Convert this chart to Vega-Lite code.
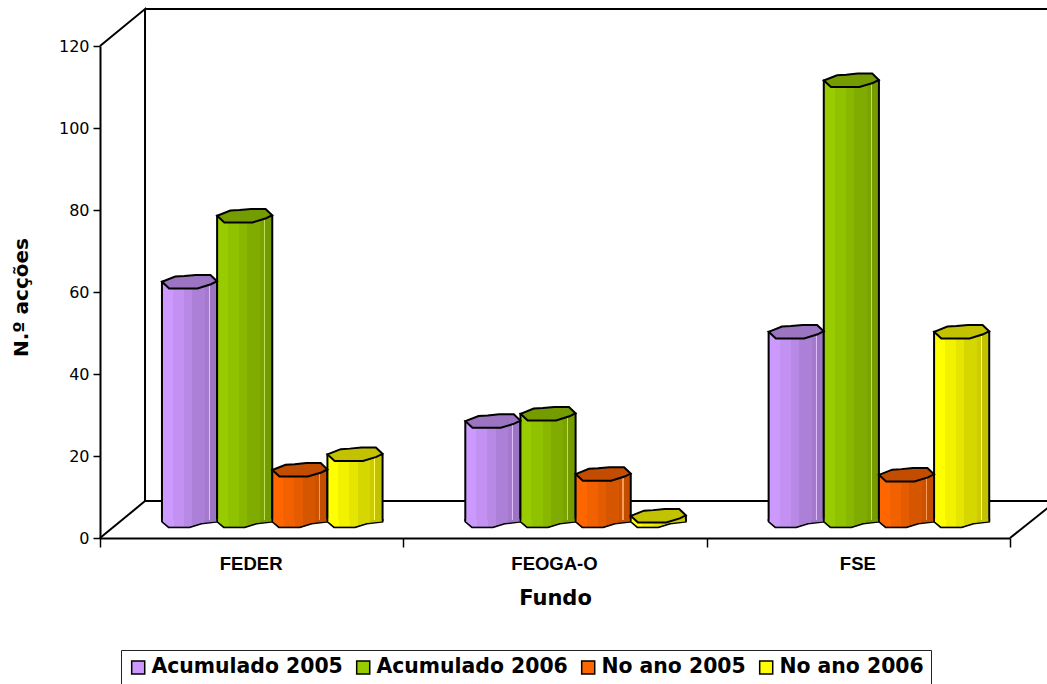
{
"$schema":"https://vega.github.io/schema/vega-lite/v6.json",
"width":910,"height":492,
"autosize":{"type":"none"},
"padding":{"left":100,"top":46,"right":37,"bottom":146},
"background":"white",
"datasets":{
"bars":[
{"fund":"FEDER","series":"Acumulado 2005","value":58.1},
{"fund":"FEDER","series":"Acumulado 2006","value":74.2},
{"fund":"FEDER","series":"No ano 2005","value":12.2},
{"fund":"FEDER","series":"No ano 2006","value":16},
{"fund":"FEOGA-O","series":"Acumulado 2005","value":24.1},
{"fund":"FEOGA-O","series":"Acumulado 2006","value":25.9},
{"fund":"FEOGA-O","series":"No ano 2005","value":11.2},
{"fund":"FEOGA-O","series":"No ano 2006","value":1},
{"fund":"FSE","series":"Acumulado 2005","value":45.9},
{"fund":"FSE","series":"Acumulado 2006","value":107.2},
{"fund":"FSE","series":"No ano 2005","value":11},
{"fund":"FSE","series":"No ano 2006","value":45.9}
],
"walls":[
{"seg":"a","ord":1,"px":0,"py":120},
{"seg":"a","ord":2,"px":0.1484,"py":129},
{"seg":"a","ord":3,"px":0.1484,"py":9},
{"seg":"a","ord":4,"px":3.124,"py":9},
{"seg":"b","ord":1,"px":0,"py":0},
{"seg":"b","ord":2,"px":0.1484,"py":9},
{"seg":"c","ord":1,"px":3,"py":0},
{"seg":"c","ord":2,"px":3.124,"py":7.3},
{"seg":"d","ord":1,"px":0.1484,"py":129},
{"seg":"d","ord":2,"px":3.124,"py":129}
]
},
"config":{
"view":{"stroke":null},
"axis":{"grid":false,"domainColor":"black","domainWidth":2,"tickColor":"black","tickWidth":1.5},
"legend":{"labelFont":"DejaVu Sans","labelFontWeight":"bold","labelFontSize":20.4,"labelColor":"black","symbolType":"square","symbolSize":170,"symbolStrokeColor":"black","symbolStrokeWidth":1.5,"strokeColor":"#222","padding":7,"columnPadding":10,"labelOffset":3,"labelLimit":300}
},
"resolve":{"scale":{"x":"independent","y":"independent"}},
"layer":[
{
"data":{"name":"bars"},
"mark":{"type":"bar","opacity":0},
"encoding":{
"x":{"field":"fund","type":"nominal","scale":{"domain":["FEDER","FEOGA-O","FSE"],"paddingInner":0,"paddingOuter":0},
"axis":{"title":"Fundo","tickBand":"extent","labelAngle":0,"labelFont":"Liberation Sans","labelFontWeight":"bold","labelFontSize":18.5,"labelOffset":-1,"labelColor":"black","labelPadding":7,"tickSize":9,"titleFont":"DejaVu Sans","titleFontWeight":"bold","titleFontSize":21,"titleColor":"black","titlePadding":15}},
"y":{"field":"value","type":"quantitative","stack":null,"scale":{"domain":[0,120],"nice":false},
"axis":{"title":"N.º acções","titleY":251,"values":[0,20,40,60,80,100,120],"tickSize":7,"labelFont":"DejaVu Sans","labelFontSize":16,"labelColor":"black","labelPadding":4,"titleFont":"DejaVu Sans","titleFontWeight":"bold","titleFontSize":20,"titleColor":"black","titlePadding":27}}
}
},
{
"data":{"name":"walls"},
"mark":{"type":"line","color":"black","strokeWidth":2,"clip":false},
"encoding":{
"x":{"field":"px","type":"quantitative","scale":{"domain":[0,3],"nice":false,"zero":false},"axis":null},
"y":{"field":"py","type":"quantitative","scale":{"domain":[0,120],"nice":false},"axis":null},
"detail":{"field":"seg"},
"order":{"field":"ord"}
}
},
{
"data":{"name":"bars"},
"encoding":{
"x":{"field":"fund","type":"nominal","scale":{"domain":["FEDER","FEOGA-O","FSE"],"range":[20.6,930.6],"paddingInner":0,"paddingOuter":0},"axis":null},
"xOffset":{"field":"series","type":"nominal","scale":{"domain":["Acumulado 2005","Acumulado 2006","No ano 2005","No ano 2006"],"paddingInner":0,"paddingOuter":0.75}},
"y":{"field":"value","type":"quantitative","stack":null,"scale":{"domain":[-4.39,115.61],"nice":false},"axis":null},
"color":{"field":"series","type":"nominal","scale":{"domain":["Acumulado 2005","Acumulado 2006","No ano 2005","No ano 2006"],"range":["#CC99FF","#99CC00","#FF6600","#FFFF00"]},
"legend":{"title":null,"orient":"none","legendX":21,"legendY":604,"columns":4,"direction":"horizontal"}}
},
"layer":[
{"mark":{"type":"point","filled":true,"opacity":1,"stroke":"black","strokeWidth":2,"shape":"M-1,0L-1,0.06L-0.76,0.26L0,0.26L0.43,0.13L1,0.06L1,0Z","size":3025},
 "encoding":{"y":{"datum":0,"type":"quantitative","scale":{"domain":[-4.39,115.61],"nice":false},"axis":null}}},
{"mark":{"type":"bar","stroke":"black","strokeWidth":2}},
{"mark":{"type":"point","filled":true,"opacity":1,"strokeWidth":0,"shape":"M-0.97,-0.05L0.97,-0.05L0.97,0.05L0.42,0.11L0,0.24L-0.75,0.24L-0.97,0.05Z","size":3025},
 "encoding":{"y":{"datum":0,"type":"quantitative","scale":{"domain":[-4.39,115.61],"nice":false},"axis":null}}},
{"mark":{"type":"bar","strokeWidth":0,"fill":{"x1":0,"y1":0,"x2":1,"y2":0,"gradient":"linear","stops":[
{"offset":0,"color":"rgba(0,0,0,0)"},{"offset":0.2,"color":"rgba(0,0,0,0)"},{"offset":0.2,"color":"rgba(0,0,0,0.05)"},{"offset":0.4,"color":"rgba(0,0,0,0.05)"},{"offset":0.4,"color":"rgba(0,0,0,0.1)"},{"offset":0.55,"color":"rgba(0,0,0,0.1)"},{"offset":0.55,"color":"rgba(0,0,0,0.16)"},{"offset":0.78,"color":"rgba(0,0,0,0.16)"},{"offset":0.78,"color":"rgba(0,0,0,0.2)"},{"offset":0.85,"color":"rgba(0,0,0,0.2)"},{"offset":0.85,"color":"rgba(255,255,255,0.35)"},{"offset":0.87,"color":"rgba(255,255,255,0.35)"},{"offset":0.87,"color":"rgba(0,0,0,0.24)"},{"offset":1,"color":"rgba(0,0,0,0.24)"}]},"opacity":1},
 "encoding":{"color":{"value":null}}},
{"mark":{"type":"point","filled":true,"opacity":1,"strokeWidth":0,"shape":"M-0.97,0L0.97,0L0.97,0.05L0.42,0.11L0,0.24L-0.75,0.24L-0.97,0.05Z","size":3025,"fill":{"x1":0,"y1":0,"x2":1,"y2":0,"gradient":"linear","stops":[
{"offset":0,"color":"rgba(0,0,0,0)"},{"offset":0.2,"color":"rgba(0,0,0,0)"},{"offset":0.2,"color":"rgba(0,0,0,0.05)"},{"offset":0.4,"color":"rgba(0,0,0,0.05)"},{"offset":0.4,"color":"rgba(0,0,0,0.1)"},{"offset":0.55,"color":"rgba(0,0,0,0.1)"},{"offset":0.55,"color":"rgba(0,0,0,0.16)"},{"offset":0.78,"color":"rgba(0,0,0,0.16)"},{"offset":0.78,"color":"rgba(0,0,0,0.22)"},{"offset":1,"color":"rgba(0,0,0,0.24)"}]}},
 "encoding":{"color":{"value":null},"y":{"datum":0,"type":"quantitative","scale":{"domain":[-4.39,115.61],"nice":false},"axis":null}}},
{"mark":{"type":"point","filled":true,"opacity":1,"strokeWidth":0,"shape":"M-1,0L-0.52,-0.19L-0.19,-0.21L0.23,-0.25L0.76,-0.25L1,-0.02L0.78,0.09L0.29,0.24L-0.74,0.24Z","size":3025}},
{"mark":{"type":"point","filled":true,"fill":"black","fillOpacity":0.24,"opacity":1,"stroke":"black","strokeWidth":2,"shape":"M-1,0L-0.52,-0.19L-0.19,-0.21L0.23,-0.25L0.76,-0.25L1,-0.02L0.78,0.09L0.29,0.24L-0.74,0.24Z","size":3025},
 "encoding":{"color":{"value":null}}}
]
}
]
}
